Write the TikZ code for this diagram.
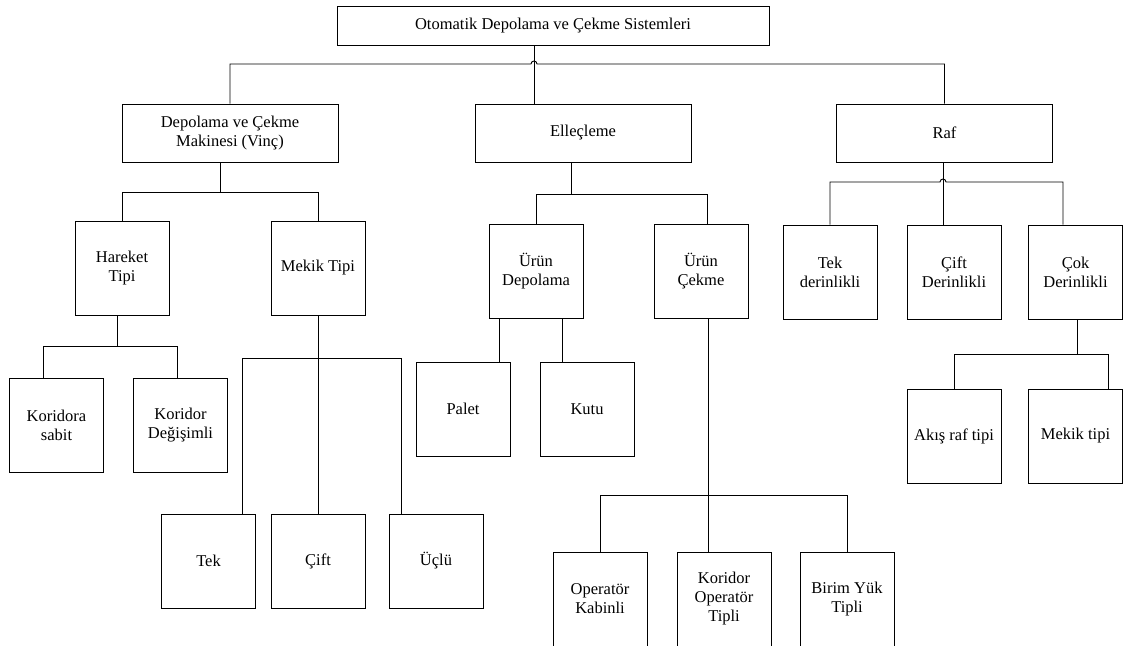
\documentclass[tikz,border=0pt]{standalone}
\usepackage{fontspec}
\setmainfont{Liberation Serif}
\newfontfamily\boxfont{Liberation Serif}
\begin{document}
\begin{tikzpicture}[x=1pt,y=-1pt,
  box/.style={draw, line width=0.9pt, inner sep=1pt, align=center,
              font=\boxfont\fontsize{16.5}{19}\selectfont},
  wide/.style={box, minimum width=216pt, minimum height=58pt},
  sq/.style={box, minimum width=94pt, minimum height=94pt},
  link/.style={line width=0.9pt}]
\useasboundingbox (0,0) rectangle (1123,645);
\clip (0,0) rectangle (1123,645);

% level 0 and 1
\node[box, minimum width=432pt, minimum height=39pt] (top) at (553,25.5) {Otomatik Depolama ve Çekme Sistemleri};
\node[wide] (depo) at (230,133) {Depolama ve Çekme\\Makinesi (Vinç)};
\node[wide] (elle) at (583,133) {Elleçleme};
\node[wide] (raf)  at (944.5,133) {Raf};

% machine branch
\node[sq] (hareket)   at (122,268)   {Hareket\\Tipi};
\node[sq] (mekik)     at (318,268)   {Mekik Tipi};
\node[sq] (koridora)  at (56.5,425)  {Koridora\\sabit};
\node[sq] (degisimli) at (180.5,425) {Koridor\\Değişimli};
\node[sq] (tek)       at (208.5,561) {Tek};
\node[sq] (cift)      at (318,561)   {Çift};
\node[sq] (uclu)      at (436,561)   {Üçlü};

% handling branch
\node[sq] (urundep) at (536,271.5) {Ürün\\Depolama};
\node[sq] (uruncek) at (701,271.5) {Ürün\\Çekme};
\node[sq] (palet)   at (463,409)   {Palet};
\node[sq] (kutu)    at (587,409)   {Kutu};
\node[sq] (opk)     at (600,599)   {Operatör\\Kabinli};
\node[sq] (kot)     at (724,599)   {Koridor\\Operatör\\Tipli};
\node[sq] (byt)     at (847,599)   {Birim Yük\\Tipli};

% rack branch
\node[sq] (tekd)   at (830,272)    {Tek\\derinlikli};
\node[sq] (ciftd)  at (954,272)    {Çift\\Derinlikli};
\node[sq] (cokd)   at (1075.5,272) {Çok\\Derinlikli};
\node[sq] (akis)   at (954,436)    {Akış raf tipi};
\node[sq] (mekikt) at (1075.5,436) {Mekik tipi};

% bus junctions
\coordinate (j1) at (534,64);
\coordinate (d1) at (220,192);
\coordinate (h1) at (117,346);
\coordinate (h2) at (43,346);
\coordinate (h3) at (177,346);
\coordinate (m1) at (242,358);
\coordinate (m2) at (401,358);
\coordinate (e1) at (571,194);
\coordinate (e2) at (707,194);
\coordinate (u1) at (499,0);
\coordinate (u2) at (562,0);
\coordinate (c1) at (708,495);
\coordinate (r1) at (943,182);
\coordinate (r2) at (1063,182);
\coordinate (k1) at (1077,354);
\coordinate (k2) at (1108,354);

% top level
\draw[link] (top.south -| j1) -- (elle.north -| j1);
\draw[link] (depo.north) -- (depo.north |- j1) -- ([xshift=-3pt]j1)
  arc[start angle=180, end angle=0, radius=3pt] -- (raf.north |- j1) -- (raf.north);

% machine
\draw[link] (depo.south -| d1) -- (d1);
\draw[link] (hareket.north) -- (hareket.north |- d1) -- (mekik.north |- d1) -- (mekik.north);
\draw[link] (hareket.south -| h1) -- (h1);
\draw[link] (koridora.north -| h2) -- (h2) -- (h3) -- (degisimli.north -| h3);
\draw[link] (mekik.south) -- (cift.north);
\draw[link] (tek.north -| m1) -- (m1) -- (m2) -- (uclu.north -| m2);

% handling
\draw[link] (elle.south -| e1) -- (e1);
\draw[link] (urundep.north) -- (urundep.north |- e1) -- (e2) -- (uruncek.north -| e2);
\draw[link] (urundep.south -| u1) -- (palet.north -| u1);
\draw[link] (urundep.south -| u2) -- (kutu.north -| u2);
\draw[link] (uruncek.south -| c1) -- (kot.north -| c1);
\draw[link] (opk.north) -- (opk.north |- c1) -- (byt.north |- c1) -- (byt.north);

% rack
\draw[link] (raf.south -| r1) -- (ciftd.north -| r1);
\draw[link] (tekd.north) -- (tekd.north |- r1) -- ([xshift=-3pt]r1)
  arc[start angle=180, end angle=0, radius=3pt] -- (r2) -- (cokd.north -| r2);
\draw[link] (cokd.south -| k1) -- (k1);
\draw[link] (akis.north) -- (akis.north |- k1) -- (k2) -- (mekikt.north -| k2);
\end{tikzpicture}
\end{document}
